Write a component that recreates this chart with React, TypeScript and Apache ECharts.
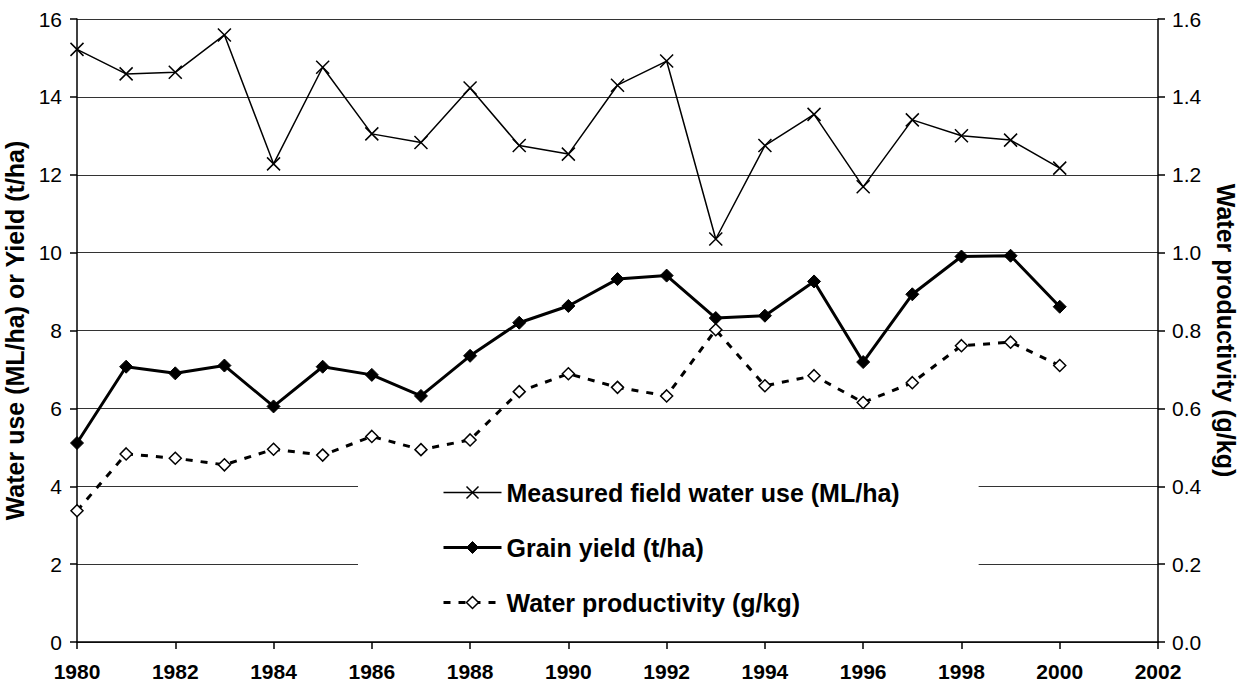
import React, { useEffect, useRef } from "react";
import * as echarts from "echarts";

const years = [1980, 1981, 1982, 1983, 1984, 1985, 1986, 1987, 1988, 1989, 1990, 1991, 1992, 1993, 1994, 1995, 1996, 1997, 1998, 1999, 2000];
const waterUse = [15.22, 14.59, 14.63, 15.59, 12.28, 14.76, 13.05, 12.83, 14.23, 12.75, 12.53, 14.3, 14.92, 10.35, 12.75, 13.55, 11.69, 13.41, 13.0, 12.89, 12.17];
const grainYield = [5.11, 7.07, 6.9, 7.1, 6.05, 7.07, 6.86, 6.32, 7.35, 8.2, 8.63, 9.32, 9.41, 8.32, 8.38, 9.26, 7.19, 8.93, 9.9, 9.92, 8.61];
const waterProductivity = [0.337, 0.483, 0.472, 0.455, 0.495, 0.48, 0.528, 0.494, 0.519, 0.643, 0.689, 0.654, 0.632, 0.802, 0.658, 0.684, 0.615, 0.666, 0.761, 0.77, 0.71];

const seriesNames = ["Measured field water use (ML/ha)", "Grain yield (t/ha)", "Water productivity (g/kg)"];
const leftAxisTitle = "Water use (ML/ha) or Yield (t/ha)";
const rightAxisTitle = "Water productivity (g/kg)";

const FONT = "'Liberation Sans', Arial, sans-serif";
const CROSS = "path://M0,0L10,10M10,0L0,10";

export default function App() {
  const ref = useRef<HTMLDivElement>(null);
  useEffect(() => {
    document.body.style.margin = "0";
    const chart = echarts.init(ref.current!, null, { renderer: "svg" });
    const pairs = (vals: number[]) => years.map((y, i) => [y, vals[i]]);
    const styles = [
      {
        symbol: CROSS,
        symbolSize: 13,
        lineStyle: { color: "#000", width: 1.5, type: "solid" as any },
        itemStyle: { color: "#000", borderColor: "#000", borderWidth: 1.5 },
      },
      {
        symbol: "diamond",
        symbolSize: 13,
        lineStyle: { color: "#000", width: 3, type: "solid" as any },
        itemStyle: { color: "#000", borderColor: "#000", borderWidth: 1 },
      },
      {
        symbol: "diamond",
        symbolSize: 12,
        lineStyle: { color: "#000", width: 3, type: [7, 8] as any },
        itemStyle: { color: "#fff", borderColor: "#000", borderWidth: 1.5 },
      },
    ];
    chart.setOption({
      animation: false,
      backgroundColor: "#fff",
      textStyle: { fontFamily: FONT, color: "#000" },
      grid: { left: 77, right: 91, top: 19, bottom: 41, containLabel: false, outerBoundsMode: "none" },
      xAxis: {
        type: "value",
        min: 1980,
        max: 2002,
        interval: 2,
        axisLine: { show: true, lineStyle: { color: "#000", width: 1.5 } },
        axisTick: { show: true, length: 7, lineStyle: { color: "#000", width: 1.5 } },
        axisLabel: { fontFamily: FONT, fontSize: 21, fontWeight: "bold", color: "#000", margin: 19, formatter: (v: number) => String(v) },
        splitLine: { show: false },
      },
      yAxis: [
        {
          type: "value",
          min: 0,
          max: 16,
          interval: 2,
          name: leftAxisTitle,
          nameLocation: "middle",
          nameRotate: 90,
          nameGap: 40,
          nameTextStyle: { fontFamily: FONT, fontSize: 25, fontWeight: "bold", color: "#000" },
          axisLine: { show: true, lineStyle: { color: "#000", width: 1.5 } },
          axisTick: { show: true, length: 7, lineStyle: { color: "#000", width: 1.5 } },
          axisLabel: { fontFamily: FONT, fontSize: 21, color: "#000", margin: 15 },
          splitLine: { show: true, lineStyle: { color: "#333", width: 1 } },
        },
        {
          type: "value",
          min: 0,
          max: 1.6,
          interval: 0.2,
          name: rightAxisTitle,
          nameLocation: "middle",
          nameRotate: -90,
          nameGap: 55,
          nameTextStyle: { fontFamily: FONT, fontSize: 25, fontWeight: "bold", color: "#000" },
          axisLine: { show: true, lineStyle: { color: "#000", width: 1.5 } },
          axisTick: { show: true, length: 7, lineStyle: { color: "#000", width: 1.5 } },
          axisLabel: { fontFamily: FONT, fontSize: 21, color: "#000", margin: 14, formatter: (v: number) => v.toFixed(1) },
          splitLine: { show: false },
        },
      ],
      legend: {
        orient: "vertical",
        left: 358,
        top: 458,
        backgroundColor: "#fff",
        padding: [20, 79, 16, 84],
        itemWidth: 58,
        itemHeight: 15,
        itemGap: 26,
        textStyle: { fontFamily: FONT, fontSize: 25, fontWeight: "bold", color: "#000", lineHeight: 29 },
        data: seriesNames.map((name, i) => ({
          name,
          lineStyle: styles[i].lineStyle,
          itemStyle: styles[i].itemStyle,
        })),
      },
      series: [waterUse, grainYield, waterProductivity].map((vals, i) => ({
        name: seriesNames[i],
        type: "line",
        data: pairs(vals),
        yAxisIndex: i === 2 ? 1 : 0,
        symbol: styles[i].symbol,
        symbolSize: styles[i].symbolSize,
        lineStyle: styles[i].lineStyle,
        itemStyle: styles[i].itemStyle,
        z: 3,
      })),
    });
    return () => chart.dispose();
  }, []);
  return <div ref={ref} style={{ width: 1249, height: 683 }} />;
}
